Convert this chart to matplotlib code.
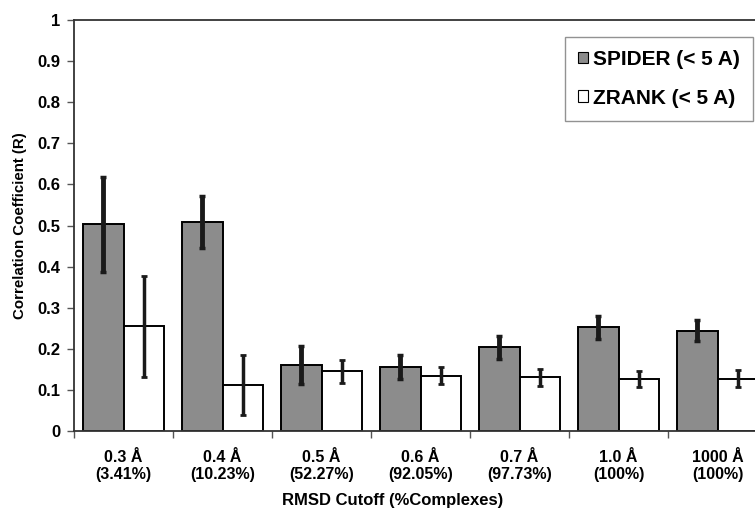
import matplotlib.pyplot as plt
import numpy as np

plt.rcParams['font.family'] = ['Liberation Sans', 'DejaVu Sans']
plt.rcParams['font.weight'] = 'bold'

cutoffs = ['0.3 Å\n(3.41%)', '0.4 Å\n(10.23%)', '0.5 Å\n(52.27%)', '0.6 Å\n(92.05%)',
           '0.7 Å\n(97.73%)', '1.0 Å\n(100%)', '1000 Å\n(100%)']
spider = [0.503, 0.509, 0.161, 0.155, 0.204, 0.252, 0.244]
spider_err = [0.115, 0.063, 0.047, 0.029, 0.028, 0.027, 0.026]
zrank = [0.255, 0.112, 0.145, 0.135, 0.131, 0.127, 0.127]
zrank_err = [0.123, 0.074, 0.028, 0.021, 0.021, 0.020, 0.021]

W, H = 755, 512
fig = plt.figure(figsize=(W / 100, H / 100), dpi=100)
ax = fig.add_axes([74 / W, (H - 431) / H, 693 / W, 411 / H])

x = np.arange(len(cutoffs))
bw = 0.405
ax.bar(x - bw / 2, spider, bw, color='#8c8c8c', edgecolor='black', linewidth=1.4,
       label='SPIDER (< 5 A)', zorder=2)
ax.bar(x + bw / 2, zrank, bw, color='white', edgecolor='black', linewidth=1.4,
       label='ZRANK (< 5 A)', zorder=2)
ax.errorbar(x - bw / 2, spider, yerr=spider_err, fmt='none', ecolor='#1a1a1a',
            elinewidth=3.5, capsize=2.5, capthick=2.5, zorder=3)
ax.errorbar(x + bw / 2, zrank, yerr=zrank_err, fmt='none', ecolor='#1a1a1a',
            elinewidth=2.5, capsize=2.5, capthick=2, zorder=3)

ax.set_xlim(-0.5, len(cutoffs) - 0.5)
ax.set_ylim(0, 1)
ax.set_yticks(np.arange(0, 1.01, 0.1))
ax.set_yticklabels(['0'] + [f'{v:.1f}' for v in np.arange(0.1, 0.95, 0.1)] + ['1'],
                   fontsize=12, fontweight='bold')
ax.set_xticks(x)
ax.set_xticklabels(cutoffs, fontsize=11.5, fontweight='bold', linespacing=1.15)
ax.set_xticks(np.arange(-0.5, len(cutoffs), 1), minor=True)
ax.tick_params(axis='x', which='major', length=0, pad=14)
ax.tick_params(axis='x', which='minor', length=5, width=1, color='#555555')
ax.tick_params(axis='y', length=5, width=1, color='#555555', pad=5)

for s in ['left', 'bottom', 'top']:
    ax.spines[s].set_color('#333333')
    ax.spines[s].set_linewidth(1.3)
ax.spines['right'].set_visible(False)

ax.set_ylabel('Correlation Coefficient (R)', fontsize=10.8, fontweight='bold', va='center')
ax.yaxis.set_label_coords((20 - 74) / 693, 0.5)
ax.set_xlabel('RMSD Cutoff (%Complexes)', fontsize=12, fontweight='bold', va='center')
ax.xaxis.set_label_coords((393 - 74) / 693, (431 - 500) / 411)

leg = fig.legend(loc='upper right', bbox_to_anchor=(753 / W, 1 - 37 / H),
                 fontsize=15, frameon=True, fancybox=False, edgecolor='#777777',
                 handlelength=0.5, handleheight=0.5, handletextpad=0.25,
                 labelspacing=0.95, borderpad=0.62, borderaxespad=0)
leg.get_frame().set_linewidth(1.0)
for t in leg.get_texts():
    t.set_fontweight('bold')
for h in leg.legend_handles:
    h.set_linewidth(0.8)

fig.savefig('out.png', dpi=100)
